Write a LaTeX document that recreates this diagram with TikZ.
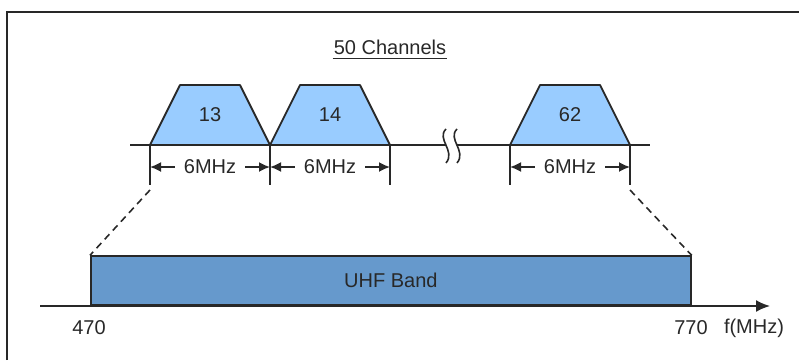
\documentclass[tikz,border=0pt]{standalone}
\usepackage{fontspec}
\setmainfont{Liberation Sans}
\usetikzlibrary{arrows.meta}
\definecolor{chanblue}{RGB}{153,204,255}
\definecolor{bandblue}{RGB}{102,153,204}
\definecolor{inkgray}{RGB}{40,40,40}
\tikzset{
  chan/.style={draw=inkgray, line width=1.8pt, line join=round},
  dimline/.style={{Latex[length=11pt,width=10pt]}-{Latex[length=11pt,width=10pt]}, line width=1.7pt, inkgray},
  lbl/.style={font=\fontsize{20}{24}\selectfont, text=inkgray, inner sep=1pt},
}
\begin{document}
\begin{tikzpicture}[x=1pt,y=1pt]
	\useasboundingbox (0,0) rectangle (799,360);
	
	% frame, only top and left edge are visible
	\draw[line width=2pt, inkgray] (7,0) -- (7,348) -- (799,348);
	
	% title
	\node[lbl] (title) at (390,313) {50 Channels};
	\draw[line width=1.8pt, inkgray] ([yshift=-3pt]title.south west) -- ([yshift=-3pt]title.south east);
	
	% channels 13, 14 and 62
	\foreach \x/\n in {150/13,270/14,510/62}{
		\fill[chanblue] (\x,215) -- (\x+30,275) -- (\x+90,275) -- (\x+120,215) -- cycle;
		\draw[chan] (\x,215) -- (\x+30,275) -- (\x+90,275) -- (\x+120,215);
		\node[lbl] (ch\n) at (\x+60,245) {\n};
	}
	
	% channel axis with break
	\draw[line width=1.8pt, inkgray] (130,215) -- (446,215);
	\draw[line width=1.8pt, inkgray] (457,215) -- (650,215);
	\foreach \x in {446,457}{
		\draw[line width=1.6pt, inkgray] (\x,231) .. controls (\x-10,221) and (\x+10,209) .. (\x,197);
	}
	
	% ticks and 6MHz spacing
	\foreach \i/\x in {0/150,1/270,2/390,3/510,4/630}{
		\coordinate (t\i) at (\x,215);
		\coordinate (b\i) at (\x,175);
		\draw[line width=1.7pt, inkgray] (t\i) -- (b\i);
		\coordinate (d\i) at (\x,193);
	}
	\draw[dimline] (d0) -- node[lbl, fill=white, inner xsep=9pt] (w13) {6MHz} (d1);
	\draw[dimline] (d1) -- node[lbl, fill=white, inner xsep=9pt] (w14) {6MHz} (d2);
	\draw[dimline] (d3) -- node[lbl, fill=white, inner xsep=9pt] (w62) {6MHz} (d4);
	
	% UHF band
	\node[draw=inkgray, fill=bandblue, line width=1.7pt, minimum width=600pt, minimum height=49pt,
	      inner sep=0pt, anchor=south west, lbl] (band) at (90,54) {UHF Band};
	
	% zoom lines
	\coordinate (z0) at (150,170);
	\coordinate (z1) at (630,170);
	\draw[dash pattern=on 7pt off 5pt, line width=1.6pt, inkgray] (z0) -- (band.north west);
	\draw[dash pattern=on 7pt off 5pt, line width=1.6pt, inkgray] (z1) -- (band.north east);
	
	% frequency axis
	\coordinate (a0) at (40,54);
	\coordinate (a1) at (770,54);
	\draw[-{Latex[length=14pt,width=12pt]}, line width=1.8pt, inkgray] (a0) -- (a1);
	\node[lbl] (f470) at (89,32) {470};
	\node[lbl] (f770) at (691,32) {770};
	\node[lbl] (funit) at (754,32) {f(MHz)};
	
\end{tikzpicture}
\end{document}
